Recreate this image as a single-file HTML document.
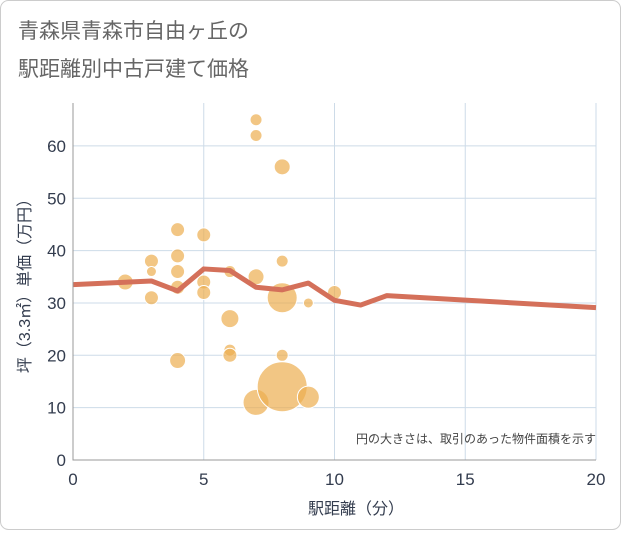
<!DOCTYPE html>
<html><head><meta charset="utf-8"><style>
body{margin:0;background:#fff;font-family:"Liberation Sans","Noto Sans CJK JP",sans-serif;}
#wrap{position:relative;width:621px;height:530px;}
</style></head><body>
<div id="wrap">
<svg id="svg" width="621" height="530" xmlns="http://www.w3.org/2000/svg">
<rect x="0.5" y="0.5" width="620" height="529" rx="8" fill="#fff" stroke="#ccc"/>
<text x="18" y="38" font-size="21" fill="#666" font-family="Liberation Sans, Noto Sans CJK JP, sans-serif">青森県青森市自由ヶ丘の</text>
<text x="18" y="76" font-size="21" fill="#666" font-family="Liberation Sans, Noto Sans CJK JP, sans-serif">駅距離別中古戸建て価格</text>
<g id="grid"></g><g id="bubbles"></g><g id="line"></g><g id="axes"></g>
<text x="596" y="443" font-size="12" fill="#444" text-anchor="end" font-family="Liberation Sans, Noto Sans CJK JP, sans-serif">円の大きさは、取引のあった物件面積を示す</text>
<text x="356" y="514" font-size="16" fill="#333c4e" text-anchor="middle" font-family="Liberation Sans, Noto Sans CJK JP, sans-serif">駅距離（分）</text>
<text transform="translate(30,282) rotate(-90)" font-size="16" fill="#333c4e" text-anchor="middle" font-family="Liberation Sans, Noto Sans CJK JP, sans-serif">坪（3.3㎡）単価（万円）</text>
</svg></div>
<script>
const xTicks=[0,5,10,15,20];
const yTicks=[0,10,20,30,40,50,60];
const bubbleX=[2,3,3,3,4,4,4,4,4,5,5,5,6,6,6,6,7,7,7,7,8,8,8,8,8,9,9,10];
const bubbleY=[34,38,36,31,44,39,36,33,19,43,34,32,36,27,21,20,65,62,35,11,56,38,31,20,14,30,12,32];
const bubbleR=[8,7,5,7,7,7,7,7,8,7,7,7,6,9,6,7,6,6,8,13,8,6,15,6,25,5,11,7];
const lineX=[0,3,4,5,6,7,8,9,10,11,12,20];
const lineY=[33.5,34.2,32.3,36.5,36.2,33,32.5,33.8,30.5,29.6,31.4,29.1];
const L=73,R=596,T=103,B=460,xMax=20,yMax=68.2;
const sx=v=>L+v/xMax*(R-L), sy=v=>B-v/yMax*(B-T);
const NS="http://www.w3.org/2000/svg";
function mk(t,a,p){const e=document.createElementNS(NS,t);for(const k in a)e.setAttribute(k,a[k]);p.appendChild(e);return e;}
const grid=document.getElementById('grid'),axes=document.getElementById('axes');
xTicks.forEach(v=>{
 const l=mk('line',{x1:sx(v),x2:sx(v),y1:T,y2:B,stroke:'#cddbe8','stroke-width':1},grid);
 
 
 const t=mk('text',{x:sx(v),y:B+25,'font-size':17,fill:'#333c4e','text-anchor':'middle'},axes);t.textContent=v;
 
 
});
yTicks.forEach(v=>{
 const l=mk('line',{x1:L,x2:R,y1:sy(v),y2:sy(v),stroke:'#cddbe8','stroke-width':1},grid);
 
 
 const t=mk('text',{x:L-7,y:sy(v)+6,'font-size':17,fill:'#333c4e','text-anchor':'end'},axes);t.textContent=v;
 
 
});
const ax=mk('path',{d:`M${L},${T}V${B}H${R}`,fill:'none',stroke:'#999','stroke-width':1},axes);


const bg=document.getElementById('bubbles');
bubbleX.forEach((x,i)=>{
 const c=mk('circle',{cx:sx(x),cy:sy(bubbleY[i]),r:bubbleR[i],fill:'rgba(236,174,80,0.7)',stroke:'#fff','stroke-width':1},bg);
 
 
});
const p=mk('polyline',{points:lineX.map((x,i)=>sx(x)+','+sy(lineY[i])).join(' '),fill:'none',stroke:'#d4705a','stroke-width':5,'stroke-linejoin':'round'},document.getElementById('line'));


</script>
</body></html>
